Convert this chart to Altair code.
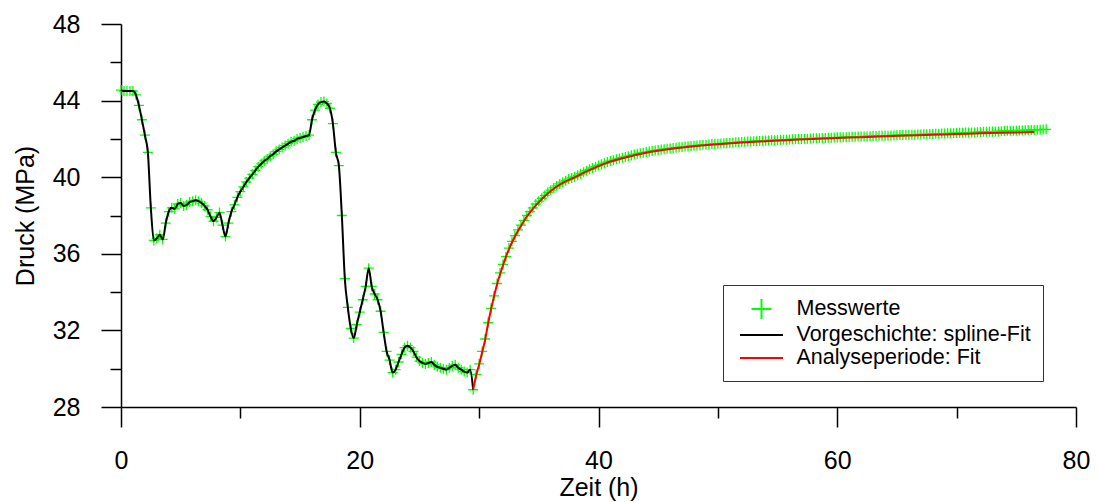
import altair as alt
import pandas as pd

# ---------------- data ----------------
zeit_h = [
    0.0, 0.25, 0.5, 0.75, 1.0, 1.25, 1.5, 1.75,
    2.0, 2.25, 2.5, 2.75, 3.0, 3.25, 3.5, 3.75,
    4.0, 4.25, 4.5, 4.75, 5.0, 5.25, 5.5, 5.75,
    6.0, 6.25, 6.5, 6.75, 7.0, 7.25, 7.5, 7.75,
    8.0, 8.25, 8.5, 8.75, 9.0, 9.25, 9.5, 9.75,
    10.0, 10.25, 10.5, 10.75, 11.0, 11.25, 11.5, 11.75,
    12.0, 12.25, 12.5, 12.75, 13.0, 13.25, 13.5, 13.75,
    14.0, 14.25, 14.5, 14.75, 15.0, 15.25, 15.5, 15.75,
    16.0, 16.25, 16.5, 16.75, 17.0, 17.25, 17.5, 17.75,
    18.0, 18.25, 18.5, 18.75, 19.0, 19.25, 19.5, 19.75,
    20.0, 20.25, 20.5, 20.75, 21.0, 21.25, 21.5, 21.75,
    22.0, 22.25, 22.5, 22.75, 23.0, 23.25, 23.5, 23.75,
    24.0, 24.25, 24.5, 24.75, 25.0, 25.25, 25.5, 25.75,
    26.0, 26.25, 26.5, 26.75, 27.0, 27.25, 27.5, 27.75,
    28.0, 28.25, 28.5, 28.75, 29.0, 29.25, 29.5, 29.75,
    30.0, 30.25, 30.5, 30.75, 31.0, 31.25, 31.5, 31.75,
    32.0, 32.25, 32.5, 32.75, 33.0, 33.25, 33.5, 33.75,
    34.0, 34.25, 34.5, 34.75, 35.0, 35.25, 35.5, 35.75,
    36.0, 36.25, 36.5, 36.75, 37.0, 37.25, 37.5, 37.75,
    38.0, 38.25, 38.5, 38.75, 39.0, 39.25, 39.5, 39.75,
    40.0, 40.25, 40.5, 40.75, 41.0, 41.25, 41.5, 41.75,
    42.0, 42.25, 42.5, 42.75, 43.0, 43.25, 43.5, 43.75,
    44.0, 44.25, 44.5, 44.75, 45.0, 45.25, 45.5, 45.75,
    46.0, 46.25, 46.5, 46.75, 47.0, 47.25, 47.5, 47.75,
    48.0, 48.25, 48.5, 48.75, 49.0, 49.25, 49.5, 49.75,
    50.0, 50.25, 50.5, 50.75, 51.0, 51.25, 51.5, 51.75,
    52.0, 52.25, 52.5, 52.75, 53.0, 53.25, 53.5, 53.75,
    54.0, 54.25, 54.5, 54.75, 55.0, 55.25, 55.5, 55.75,
    56.0, 56.25, 56.5, 56.75, 57.0, 57.25, 57.5, 57.75,
    58.0, 58.25, 58.5, 58.75, 59.0, 59.25, 59.5, 59.75,
    60.0, 60.25, 60.5, 60.75, 61.0, 61.25, 61.5, 61.75,
    62.0, 62.25, 62.5, 62.75, 63.0, 63.25, 63.5, 63.75,
    64.0, 64.25, 64.5, 64.75, 65.0, 65.25, 65.5, 65.75,
    66.0, 66.25, 66.5, 66.75, 67.0, 67.25, 67.5, 67.75,
    68.0, 68.25, 68.5, 68.75, 69.0, 69.25, 69.5, 69.75,
    70.0, 70.25, 70.5, 70.75, 71.0, 71.25, 71.5, 71.75,
    72.0, 72.25, 72.5, 72.75, 73.0, 73.25, 73.5, 73.75,
    74.0, 74.25, 74.5, 74.75, 75.0, 75.25, 75.5, 75.75,
    76.0, 76.25, 76.5, 76.75, 77.0, 77.25, 77.5,
]
druck_mpa = [
    44.55, 44.5, 44.5, 44.5, 44.5, 44.3, 43.75, 43.0,
    42.2, 41.3, 38.4, 36.7, 36.8, 37.0, 36.75, 37.6,
    38.2, 38.4, 38.35, 38.6, 38.65, 38.5, 38.55, 38.7,
    38.75, 38.8, 38.75, 38.65, 38.5, 38.3, 37.95, 37.7,
    37.9, 38.15, 37.5, 36.9, 37.6, 38.2, 38.55, 38.95,
    39.25, 39.5, 39.75, 39.95, 40.15, 40.35, 40.55, 40.7,
    40.85, 40.95, 41.1, 41.2, 41.35, 41.45, 41.55, 41.65,
    41.75, 41.85, 41.9, 42.0, 42.05, 42.1, 42.15, 42.2,
    43.0, 43.5, 43.8, 43.92, 43.95, 43.85, 43.6, 42.8,
    41.3, 40.6, 38.0, 34.7, 33.2, 32.1, 31.6, 32.3,
    32.95, 33.6, 34.3, 35.25, 34.3, 33.9, 33.6, 33.0,
    31.9, 30.9, 30.45, 29.8, 29.95, 30.35, 30.75, 31.1,
    31.2, 31.1, 30.9, 30.6, 30.4, 30.3, 30.25, 30.3,
    30.35, 30.2, 30.1, 30.05, 30.0, 29.95, 30.05, 30.15,
    30.2, 30.05, 29.95, 29.85, 29.8, 29.95, 28.9, 29.7,
    30.25, 30.9, 31.55, 32.4, 33.15, 33.8, 34.45, 35.0,
    35.45, 35.85, 36.3, 36.65, 36.95, 37.25, 37.5, 37.75,
    38.0, 38.2, 38.4, 38.6, 38.75, 38.9, 39.05, 39.2,
    39.32, 39.44, 39.55, 39.65, 39.74, 39.82, 39.9, 39.96,
    40.02, 40.1, 40.18, 40.26, 40.34, 40.41, 40.48, 40.55,
    40.61, 40.67, 40.73, 40.79, 40.84, 40.89, 40.94, 40.98,
    41.02, 41.06, 41.1, 41.14, 41.18, 41.22, 41.25, 41.28,
    41.31, 41.34, 41.37, 41.39, 41.42, 41.44, 41.46, 41.48,
    41.5, 41.52, 41.54, 41.56, 41.58, 41.6, 41.61, 41.63,
    41.64, 41.66, 41.67, 41.69, 41.7, 41.71, 41.73, 41.74,
    41.75, 41.76, 41.77, 41.78, 41.79, 41.8, 41.82, 41.83,
    41.84, 41.85, 41.86, 41.87, 41.88, 41.88, 41.89, 41.9,
    41.91, 41.92, 41.93, 41.93, 41.94, 41.95, 41.96, 41.96,
    41.97, 41.98, 41.98, 41.99, 42.0, 42.01, 42.01, 42.02,
    42.03, 42.03, 42.04, 42.05, 42.05, 42.06, 42.06, 42.07,
    42.08, 42.08, 42.09, 42.09, 42.1, 42.11, 42.11, 42.12,
    42.12, 42.13, 42.13, 42.14, 42.15, 42.15, 42.16, 42.16,
    42.17, 42.17, 42.18, 42.18, 42.19, 42.2, 42.2, 42.21,
    42.21, 42.22, 42.22, 42.23, 42.23, 42.24, 42.24, 42.25,
    42.26, 42.27, 42.27, 42.28, 42.28, 42.29, 42.29, 42.3,
    42.31, 42.32, 42.32, 42.33, 42.33, 42.34, 42.34, 42.35,
    42.36, 42.37, 42.37, 42.38, 42.38, 42.39, 42.39, 42.4,
    42.41, 42.42, 42.42, 42.43, 42.43, 42.44, 42.44, 42.45,
    42.46, 42.47, 42.47, 42.48, 42.48, 42.49, 42.5,
]

# Analyseperiode: Fit (red curve)
fit_zeit_h = [29.5, 29.75, 30.0, 30.25, 30.5, 30.75, 31.0, 31.5, 32.0, 32.5,
              33.0, 33.5, 34.0, 35.0, 36.0, 37.0, 38.0, 39.0, 40.0, 41.0,
              42.0, 44.0, 46.0, 48.0, 50.0, 52.0, 54.0, 56.0, 58.0, 60.0,
              62.0, 64.0, 66.0, 68.0, 70.0, 72.0, 74.0, 76.5]
fit_druck_mpa = [28.9, 29.65, 30.2, 30.85, 31.5, 32.35, 33.1, 34.4, 35.4, 36.25,
                 36.9, 37.45, 37.95, 38.7, 39.28, 39.7, 39.99, 40.3, 40.58, 40.82,
                 40.99, 41.28, 41.47, 41.61, 41.72, 41.81, 41.88, 41.94, 42.0, 42.05,
                 42.09, 42.14, 42.18, 42.22, 42.25, 42.29, 42.32, 42.36]

spline_end_h = 29.5  # end of "Vorgeschichte"

series_names = ["Messwerte", "Vorgeschichte: spline-Fit", "Analyseperiode: Fit"]
series_colors = ["#00ff00", "#000000", "#ff0000"]

x_ticks = [0, 10, 20, 30, 40, 50, 60, 70, 80]
y_ticks = [28, 30, 32, 34, 36, 38, 40, 42, 44, 46, 48]

# ---------------- chart ----------------
PLUS = "M-0.93,0H0.93M0,-0.93V0.93"
DASH = "M-2,0H2"
FONT = "Liberation Sans"
PLOT_W = 955

meas = pd.DataFrame({"t": zeit_h, "p": druck_mpa, "series": series_names[0]})
fit = pd.DataFrame({"t": fit_zeit_h, "p": fit_druck_mpa})

x_enc = alt.X(
    "t:Q",
    scale=alt.Scale(domain=[0, 80], nice=False),
    axis=alt.Axis(
        values=x_ticks,
        tickSize={"condition": {"test": "datum.value % 20 == 0", "value": 20}, "value": 11},
        labelExpr="datum.value % 20 == 0 ? datum.label : ''",
        labelPadding=21,
        labelFlush=False,
        title="Zeit (h)",
        titleX=PLOT_W / 2,
        titleY=88,
        titleBaseline="alphabetic",
    ),
)
y_enc = alt.Y(
    "p:Q",
    scale=alt.Scale(domain=[28, 48], nice=False),
    axis=alt.Axis(
        values=y_ticks,
        tickSize={"condition": {"test": "datum.value % 4 == 0", "value": 20}, "value": 11},
        labelExpr="datum.value % 4 == 0 ? datum.label : ''",
        labelPadding=21,
        labelFlush=False,
        title="Druck (MPa)",
        titleX=-96,
        titleY=191.5,
        titleAngle=-90,
        titleAlign="center",
        titleBaseline="middle",
    ),
)

leg = alt.Legend(
    title=None,
    orient="none",
    legendX=602,
    legendY=261,
    symbolSize=462,
    symbolStrokeWidth=2,
    symbolOffset=14.5,
    labelFontSize=21.5,
    labelFont=FONT,
    labelColor="black",
    labelOffset=23,
    labelLimit=500,
    padding=12,
    rowPadding=0,
    strokeColor="#333333",
    fillColor="white",
)

points = alt.Chart(meas).mark_point(
    filled=False, size=116, strokeWidth=1.3, opacity=1
).encode(
    x=x_enc,
    y=y_enc,
    color=alt.Color("series:N", scale=alt.Scale(domain=series_names, range=series_colors), legend=leg),
    shape=alt.Shape("series:N", scale=alt.Scale(domain=series_names, range=[PLUS, DASH, DASH]), legend=leg),
)

spline = alt.Chart(meas).transform_filter(
    f"datum.t <= {spline_end_h}"
).mark_line(color="black", strokeWidth=2, interpolate="monotone").encode(x=x_enc, y=y_enc)

fitline = alt.Chart(fit).mark_line(
    color="#ff0000", strokeWidth=2, interpolate="monotone"
).encode(x=x_enc, y=y_enc)

chart = alt.layer(points, spline, fitline).properties(
    width=PLOT_W,
    height=383,
    autosize=alt.AutoSizeParams(type="none"),
    padding={"left": 113, "top": 16, "right": 14, "bottom": 95},
).configure_view(stroke=None).configure_axis(
    grid=False,
    domainColor="black",
    domainWidth=1.5,
    tickColor="black",
    tickWidth=1.5,
    labelFont=FONT,
    labelFontSize=25,
    labelColor="black",
    titleFont=FONT,
    titleFontSize=25,
    titleFontWeight="normal",
    titleColor="black",
).configure_legend(cornerRadius=0)

chart.save("out.html", embed_options={"renderer": "svg", "actions": False})
